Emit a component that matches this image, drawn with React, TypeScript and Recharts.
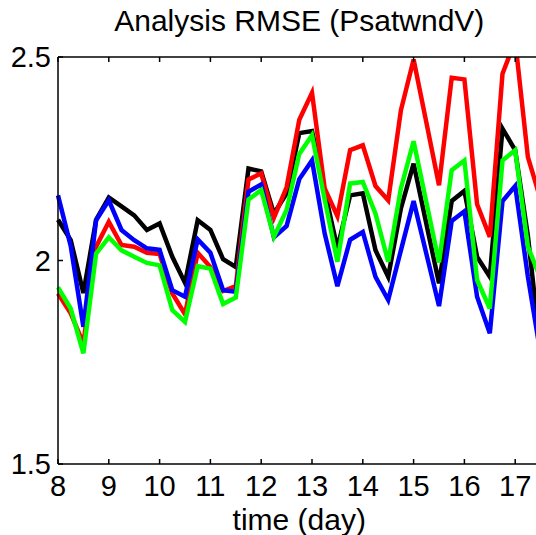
import React from 'react';
import { LineChart, Line, XAxis, YAxis } from 'recharts';

// six-hourly analysis times (day)
const times = [
  8, 8.25, 8.5, 8.75, 9, 9.25, 9.5, 9.75, 10, 10.25, 10.5, 10.75, 11, 11.25, 11.5, 11.75,
  12, 12.25, 12.5, 12.75, 13, 13.25, 13.5, 13.75, 14, 14.25, 14.5, 14.75, 15, 15.25, 15.5,
  15.75, 16, 16.25, 16.5, 16.75, 17, 17.25, 17.5,
];

const blackRmse = [
  2.1, 2.05, 1.92, 2.1, 2.155, 2.133, 2.111, 2.075, 2.091, 2.009, 1.945, 2.099, 2.075, 2.003,
  1.984, 2.226, 2.219, 2.115, 2.165, 2.313, 2.318, 2.17, 2.03, 2.16, 2.165, 2.025, 1.96, 2.128,
  2.238, 2.091, 1.944, 2.146, 2.171, 2.009, 1.96, 2.324, 2.271, 2.06, 1.78,
];
const redRmse = [
  1.919, 1.87, 1.796, 2.034, 2.095, 2.038, 2.034, 2.019, 2.016, 1.919, 1.868, 2.019, 1.984,
  1.925, 1.937, 2.199, 2.214, 2.105, 2.18, 2.346, 2.412, 2.177, 2.109, 2.271, 2.283, 2.183,
  2.148, 2.369, 2.494, 2.34, 2.185, 2.449, 2.445, 2.138, 2.058, 2.459, 2.54, 2.254, 2.15,
];
const blueRmse = [
  2.16, 2.036, 1.837, 2.099, 2.148, 2.075, 2.05, 2.03, 2.026, 1.927, 1.911, 2.052, 2.019, 1.927,
  1.923, 2.169, 2.187, 2.057, 2.085, 2.2, 2.246, 2.066, 1.937, 2.051, 2.07, 1.96, 1.903, 2.025,
  2.146, 2.017, 1.888, 2.097, 2.121, 1.911, 1.821, 2.146, 2.183, 1.96, 1.77,
];
const greenRmse = [
  1.934, 1.882, 1.772, 2.017, 2.057, 2.025, 2.009, 1.994, 1.988, 1.878, 1.849, 1.986, 1.98,
  1.893, 1.909, 2.15, 2.173, 2.058, 2.124, 2.262, 2.308, 2.15, 1.997, 2.189, 2.193, 2.115,
  1.997, 2.177, 2.293, 2.144, 1.995, 2.222, 2.246, 1.952, 1.882, 2.246, 2.271, 2.034, 1.956,
];

const xTicks = [8, 9, 10, 11, 12, 13, 14, 15, 16, 17];
const yTicks = [1.5, 2, 2.5];

const data = times.map((t, i) => ({
  t,
  black: blackRmse[i],
  red: redRmse[i],
  blue: blueRmse[i],
  green: greenRmse[i],
}));

const FONT = "'Liberation Sans', Arial, Helvetica, sans-serif";

const BottomTick = (props: any) => {
  const { x, y, payload } = props;
  return (
    <g>
      <line x1={x} y1={y} x2={x} y2={y - 5} stroke="#000" strokeWidth={1.5} />
      <text x={x} y={y + 32} textAnchor="middle" fontSize={29} fontFamily={FONT} fill="#000">
        {payload.value}
      </text>
    </g>
  );
};

const TopTick = (props: any) => {
  const { x, y } = props;
  return <line x1={x} y1={y} x2={x} y2={y + 5} stroke="#000" strokeWidth={1.5} />;
};

const LeftTick = (props: any) => {
  const { x, y, payload } = props;
  return (
    <g>
      <line x1={x} y1={y} x2={x + 5} y2={y} stroke="#000" strokeWidth={1.5} />
      <text x={x - 7} y={y + 10} textAnchor="end" fontSize={29} fontFamily={FONT} fill="#000">
        {payload.value}
      </text>
    </g>
  );
};

export default function App() {
  return (
    <div
      style={{
        position: 'absolute',
        left: 0,
        top: 0,
        width: 536,
        height: 535,
        overflow: 'hidden',
        background: '#fff',
      }}
    >
      <LineChart width={560} height={535} data={data} margin={{ top: 56, right: 19.4, bottom: 0, left: 0 }}>
        <XAxis
          dataKey="t"
          type="number"
          domain={[8, 17.5]}
          ticks={xTicks}
          interval={0}
          height={71}
          tickSize={0}
          tickMargin={0}
          tickLine={false}
          tick={<BottomTick />}
          axisLine={{ stroke: '#000', strokeWidth: 1.5 }}
          label={{ value: 'time (day)', position: 'insideBottom', offset: 5, fontSize: 30, fontFamily: FONT, fill: '#000' }}
        />
        <XAxis
          xAxisId="top"
          dataKey="t"
          orientation="top"
          type="number"
          domain={[8, 17.5]}
          ticks={xTicks}
          interval={0}
          height={1}
          tickSize={0}
          tickMargin={0}
          tickLine={false}
          tick={<TopTick />}
          axisLine={{ stroke: '#000', strokeWidth: 1.5 }}
          label={{ value: 'Analysis RMSE (PsatwndV)', position: 'top', offset: 25, fontSize: 30, fontFamily: FONT, fill: '#000' }}
        />
        <YAxis
          type="number"
          domain={[1.5, 2.5]}
          allowDataOverflow
          ticks={yTicks}
          interval={0}
          width={58}
          tickSize={0}
          tickMargin={0}
          tickLine={false}
          tick={<LeftTick />}
          axisLine={{ stroke: '#000', strokeWidth: 1.5 }}
        />
        <Line dataKey="black" stroke="#000000" strokeWidth={4.5} dot={false} isAnimationActive={false} />
        <Line dataKey="red" stroke="#ff0000" strokeWidth={4.5} dot={false} isAnimationActive={false} />
        <Line dataKey="blue" stroke="#0000ff" strokeWidth={4.5} dot={false} isAnimationActive={false} />
        <Line dataKey="green" stroke="#00ff00" strokeWidth={4.5} dot={false} isAnimationActive={false} />
      </LineChart>
    </div>
  );
}
